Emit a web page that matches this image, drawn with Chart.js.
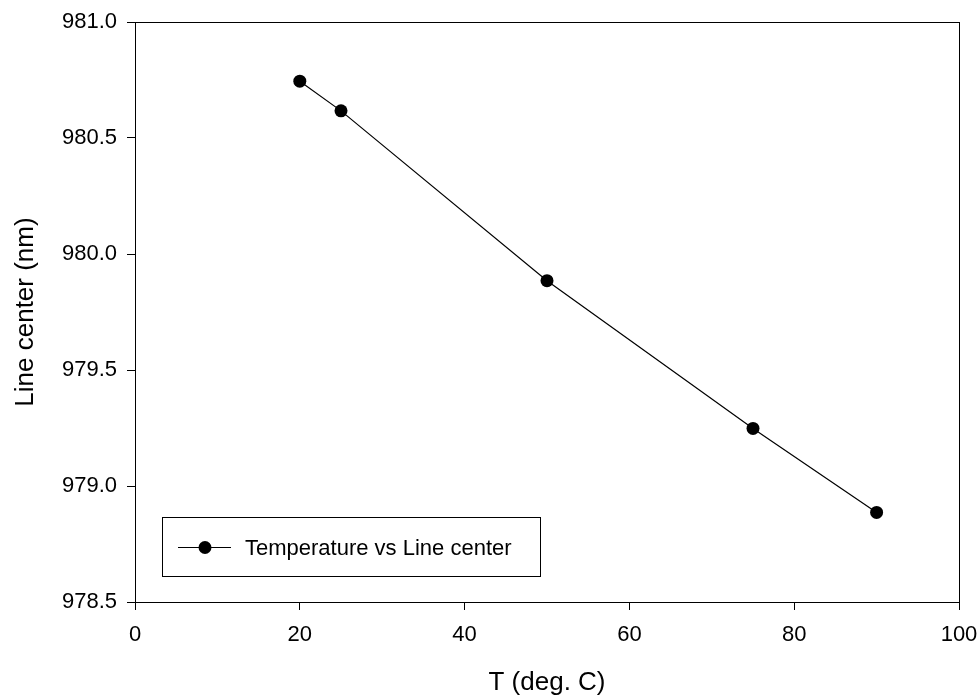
<!DOCTYPE html>
<html>
<head>
<meta charset="utf-8">
<script src="https://cdn.jsdelivr.net/npm/chart.js@4/dist/chart.umd.min.js"></script>
<style>
  html, body { margin: 0; padding: 0; background: #fff; }
  #wrap { width: 979px; height: 700px; }
</style>
</head>
<body>
<div id="wrap"><canvas id="lineChart"></canvas></div>
<script>
// temperature (deg C) and measured line center (nm)
const temps = [20, 25, 50, 75, 90];
const centers = [980.745, 980.617, 979.885, 979.248, 978.886];
const xTicks = [0, 20, 40, 60, 80, 100];
const yTicks = [978.5, 979.0, 979.5, 980.0, 980.5, 981.0];

const FONT = '"Liberation Sans", Arial, sans-serif';

// box around the plot + legend box inside the plot
const framePlugin = {
    id: 'frame',
    afterDraw(chart) {
        const { ctx, chartArea: a } = chart;
        ctx.save();
        ctx.strokeStyle = '#000';
        ctx.lineWidth = 1;
        ctx.strokeRect(a.left + 0.5, a.top + 0.5, a.right - a.left, a.bottom - a.top);

        // legend
        const ds = chart.data.datasets[0];
        const bx = Math.round(a.left + 27), by = Math.round(a.top + 495), bw = 378, bh = 59;
        ctx.strokeRect(bx + 0.5, by + 0.5, bw, bh);
        const cy = Math.round(by + bh / 2) + 0.5;
        ctx.beginPath();
        ctx.moveTo(bx + 16, cy);
        ctx.lineTo(bx + 69, cy);
        ctx.stroke();
        ctx.beginPath();
        ctx.arc(bx + 43, cy, 6.5, 0, Math.PI * 2);
        ctx.fillStyle = '#000';
        ctx.fill();
        ctx.font = '22px ' + FONT;
        ctx.textBaseline = 'middle';
        ctx.fillText(ds.label, bx + 83, cy + 1);
        ctx.restore();
    }
};

const ctx = document.getElementById('lineChart').getContext('2d');
const lineChart = new Chart(ctx, {
    type: 'line',
    data: {
        datasets: [{
            label: 'Temperature vs Line center',
            data: temps.map((t, i) => ({ x: t, y: centers[i] })),
            borderColor: '#000',
            backgroundColor: '#000',
            borderWidth: 1.2,
            pointRadius: 6.5,
            pointHoverRadius: 6.5,
            pointBackgroundColor: '#000',
            pointBorderWidth: 0,
            tension: 0
        }]
    },
    options: {
        responsive: true,
        maintainAspectRatio: false,
        animation: false,
        layout: { padding: { top: 22, right: 20, left: 0, bottom: 0 } },
        plugins: {
            legend: { display: false },
            tooltip: { enabled: false }
        },
        scales: {
            x: {
                type: 'linear',
                min: 0,
                max: 100,
                afterBuildTicks: s => { s.ticks = xTicks.map(v => ({ value: v })); },
                afterFit: s => { s.height = 98; s.paddingLeft = 0; s.paddingRight = 0; },
                grid: { drawOnChartArea: false, drawTicks: true, tickLength: 8, color: '#000' },
                border: { color: '#000', width: 1 },
                ticks: { color: '#000', padding: 12, font: { size: 22, family: FONT } },
                title: {
                    display: true,
                    text: 'T (deg. C)',
                    color: '#000',
                    font: { size: 26, family: FONT },
                    padding: { top: 10, bottom: 2 }
                }
            },
            y: {
                type: 'linear',
                min: 978.5,
                max: 981.0,
                afterBuildTicks: s => { s.ticks = yTicks.map(v => ({ value: v })); },
                afterFit: s => { s.width = 135; s.paddingTop = 0; s.paddingBottom = 0; },
                grid: { drawOnChartArea: false, drawTicks: true, tickLength: 8, color: '#000' },
                border: { color: '#000', width: 1 },
                ticks: {
                    color: '#000',
                    padding: 10,
                    font: { size: 22, family: FONT },
                    callback: v => v.toFixed(1)
                },
                title: {
                    display: true,
                    text: 'Line center (nm)',
                    color: '#000',
                    font: { size: 26, family: FONT },
                    padding: { top: 10, bottom: 0 }
                }
            }
        }
    },
    plugins: [framePlugin]
});
</script>
</body>
</html>
